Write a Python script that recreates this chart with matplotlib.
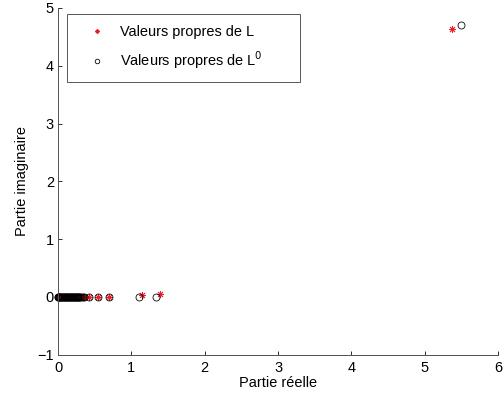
import matplotlib
matplotlib.use("Agg")
import matplotlib.pyplot as plt

plt.rcParams['font.family'] = ['Liberation Sans', 'DejaVu Sans']

# valeurs propres de L (partie reelle, partie imaginaire)
re_L = [0.0, 0.005, 0.01, 0.015, 0.02, 0.03, 0.04, 0.05, 0.06, 0.07, 0.08,
        0.09, 0.1, 0.11, 0.12, 0.13, 0.14, 0.15, 0.16, 0.17, 0.18, 0.19,
        0.2, 0.21, 0.22, 0.23, 0.24, 0.25, 0.26, 0.27, 0.28, 0.29, 0.3,
        0.32, 0.34, 0.36, 0.43, 0.55, 0.69, 1.15, 1.39, 5.38]
im_L = [0, 0, 0, 0, 0, 0, 0, 0, 0, 0, 0,
        0, 0, 0, 0, 0, 0, 0, 0, 0, 0, 0,
        0, 0, 0, 0, 0, 0, 0, 0, 0, 0, 0,
        0, 0, 0, 0, 0, 0, 0.04, 0.05, 4.63]

# valeurs propres de L0
re_L0 = [0.0, 0.005, 0.01, 0.015, 0.02, 0.03, 0.04, 0.05, 0.06, 0.07, 0.08,
         0.09, 0.1, 0.11, 0.12, 0.13, 0.14, 0.15, 0.16, 0.17, 0.18, 0.19,
         0.2, 0.21, 0.22, 0.23, 0.24, 0.25, 0.26, 0.27, 0.28, 0.29, 0.3,
         0.32, 0.34, 0.36, 0.43, 0.55, 0.69, 1.11, 1.34, 5.49]
im_L0 = [0, 0, 0, 0, 0, 0, 0, 0, 0, 0, 0,
         0, 0, 0, 0, 0, 0, 0, 0, 0, 0, 0,
         0, 0, 0, 0, 0, 0, 0, 0, 0, 0, 0,
         0, 0, 0, 0, 0, 0, 0, 0, 4.70]

fs = 14.5

fig = plt.figure(figsize=(7, 5.5), dpi=72)
ax = fig.add_axes([0.115, 0.104, 0.873, 0.876])

ax.plot(re_L, im_L, marker=(8, 2, 0), color='#e8202a', markersize=7,
        markeredgewidth=0.9, linestyle='none', clip_on=False,
        label='Valeurs propres de L')
ax.plot(re_L0, im_L0, 'o', markerfacecolor='none', markeredgecolor='black',
        markersize=7, markeredgewidth=0.8, linestyle='none', clip_on=False,
        label='Valeurs propres de L$^0$')

ax.set_xlim(0, 6)
ax.set_ylim(-1, 5)
ax.set_xticks(range(0, 7))
ax.set_yticks(range(-1, 6))
ax.set_yticklabels(['\u22121', '0', '1', '2', '3', '4', '5'])
ax.tick_params(direction='in', length=4, width=0.8, labelsize=fs,
               colors='black')
ax.tick_params(axis='x', pad=6)
ax.tick_params(axis='y', pad=4)
for s in ['top', 'right']:
    ax.spines[s].set_visible(False)
for s in ['left', 'bottom']:
    ax.spines[s].set_color('#555555')
    ax.spines[s].set_linewidth(1.0)

ax.set_xlabel('Partie réelle', fontsize=fs, labelpad=1)
ax.set_ylabel('Partie imaginaire', fontsize=fs, labelpad=8)

leg = ax.legend(loc='upper left', bbox_to_anchor=(0.0205, 0.795, 0.53, 0.188),
                mode='expand', borderaxespad=0, fontsize=fs,
                frameon=True, fancybox=False, edgecolor='black',
                borderpad=0.75, labelspacing=0.75, handletextpad=0.25,
                handlelength=2.66, markerscale=0.65)
leg.get_frame().set_linewidth(0.8)

fig.savefig('out.png', dpi=72)
